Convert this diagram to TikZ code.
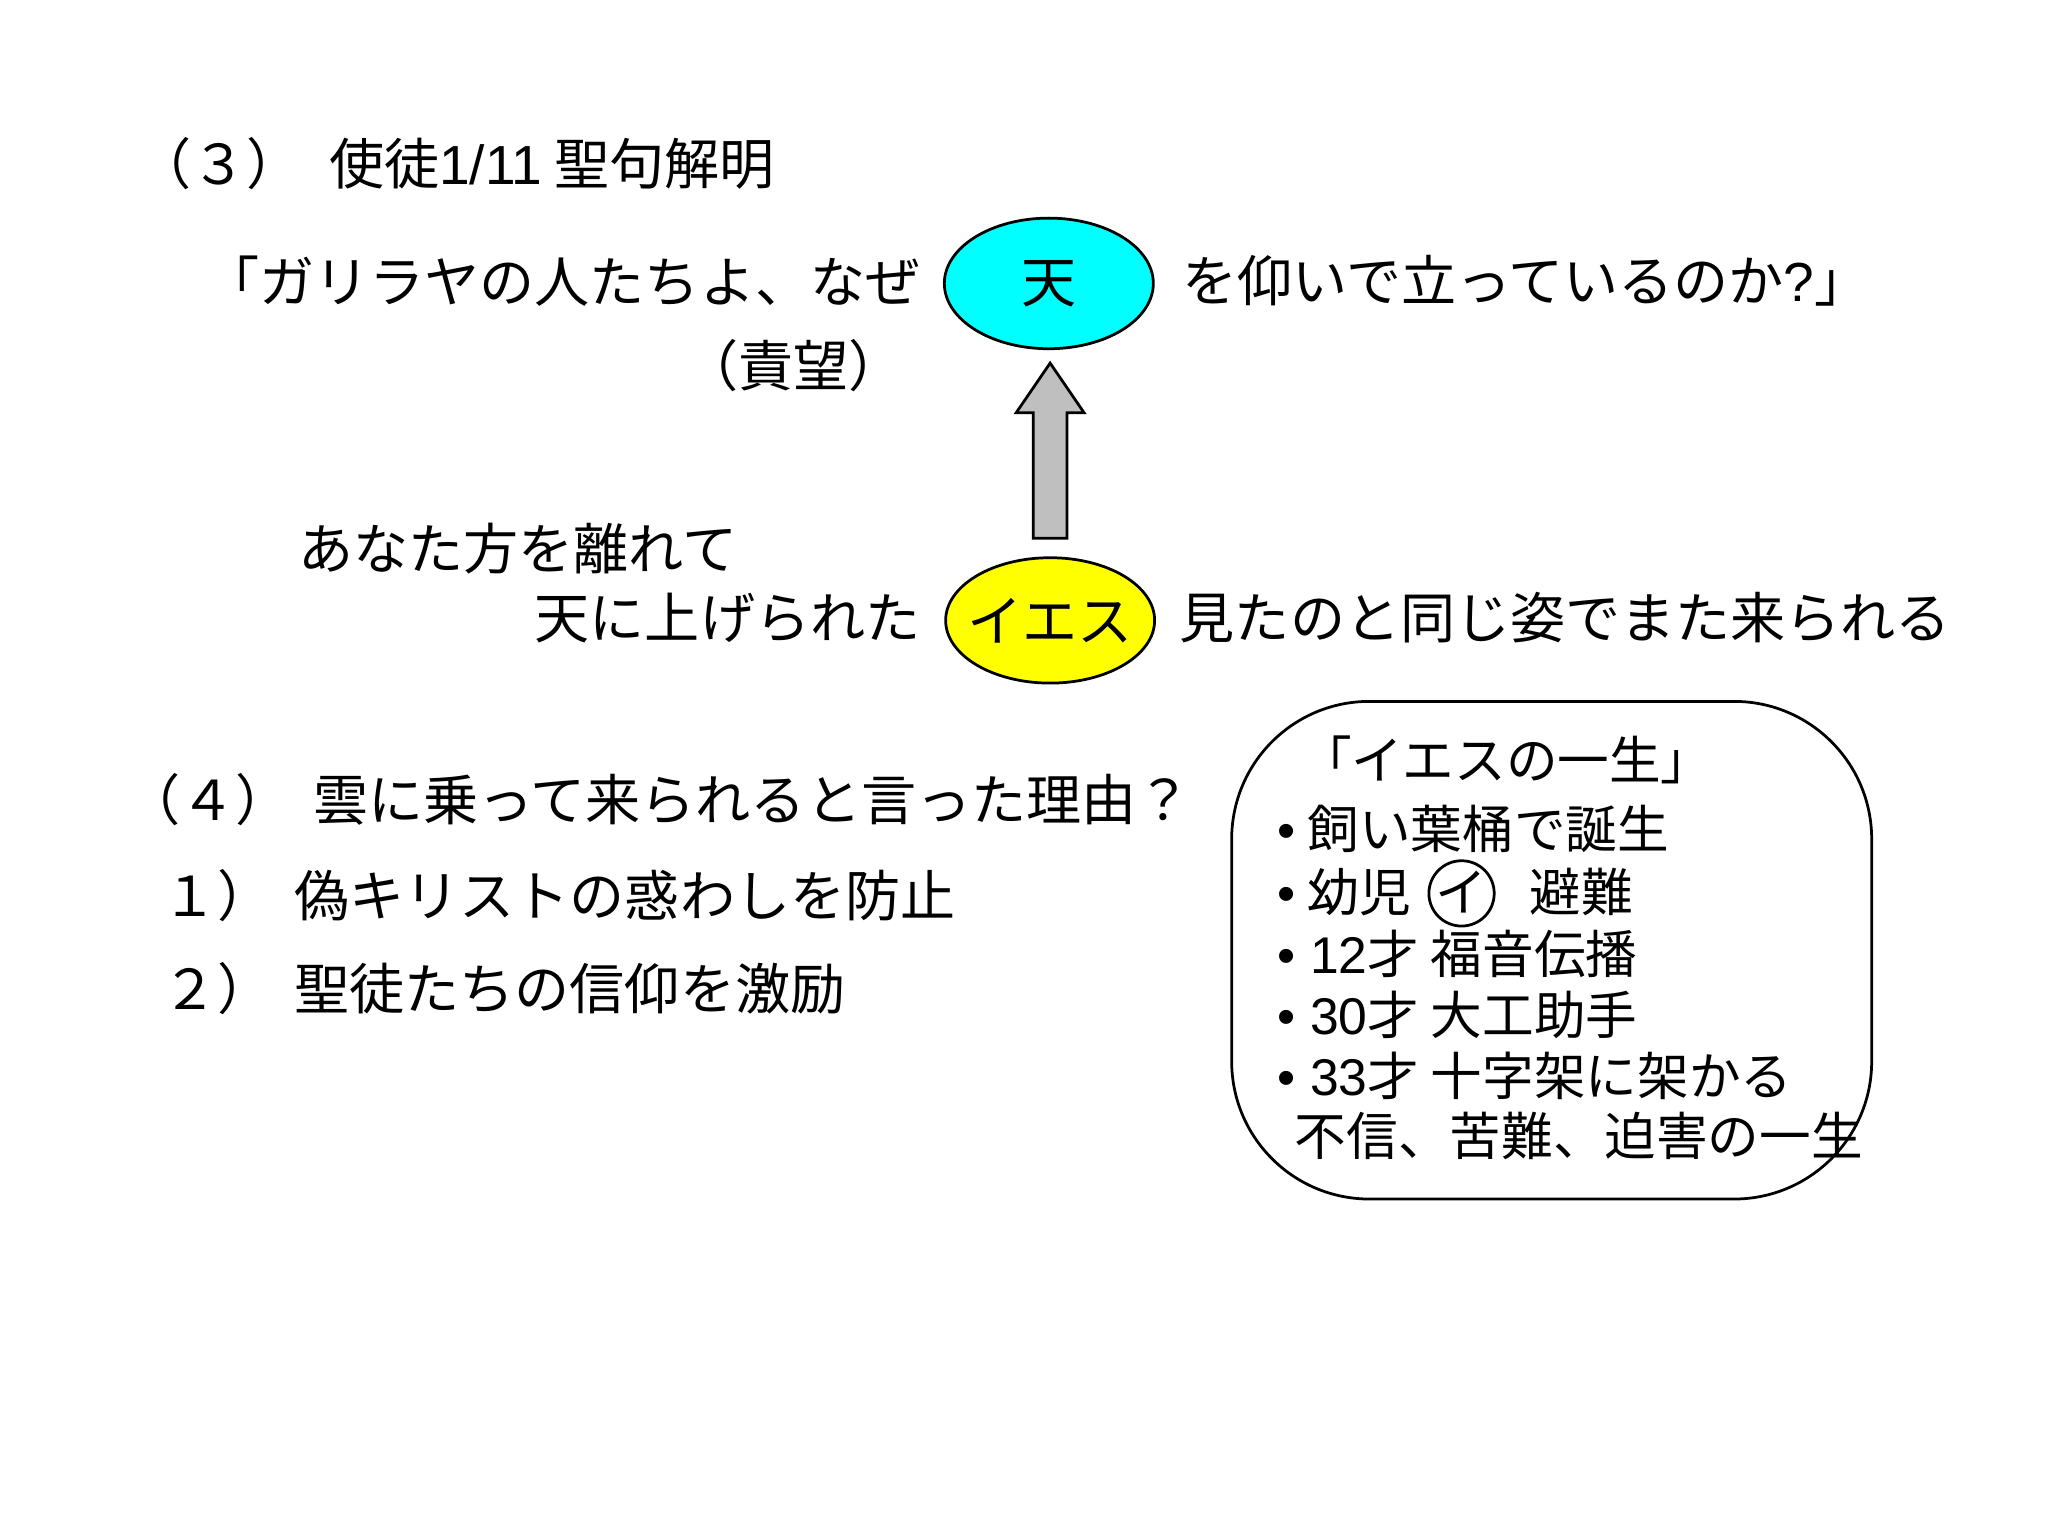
\documentclass[tikz,border=0pt]{standalone}
\usepackage{fontspec}
\setmainfont{Noto Sans CJK JP}
\newfontfamily\lat{Liberation Sans}
\definecolor{skyc}{RGB}{0,255,255}
\definecolor{yel}{RGB}{255,255,0}
\begin{document}
\begin{tikzpicture}[x=0.02cm,y=-0.02cm,
  txt/.style={inner sep=0pt,font=\fontsize{24pt}{28pt}\selectfont},
  btxt/.style={inner sep=0pt,anchor=west,font=\fontsize{22.5pt}{26pt}\selectfont}]
\useasboundingbox[fill=white] (0,0) rectangle (1568,1176);
\node[txt,anchor=west] (t3) at (104,125) {（３）\hspace{0.5em}使徒{\lat 1/11} 聖句解明};
\node[txt,anchor=east] (q1) at (705,215) {「ガリラヤの人たちよ、なぜ};
\draw[line width=1.2pt,fill=skyc] (803,217) ellipse [x radius=80,y radius=50];
\node[txt] (ten) at (803,217) {天};
\node[txt,anchor=west] (q2) at (905,215) {を仰いで立っているのか{\lat ?}」};
\node[txt,anchor=east] (sek) at (692,280) {（責望）};
\draw[line width=1.2pt,fill=white!75!black] (791,412) -- (791,316) -- (778,316) -- (804,278) -- (830,316) -- (817,316) -- (817,412) -- cycle;
\node[txt,anchor=west] (a1) at (228,420) {あなた方を離れて};
\node[txt,anchor=east] (a2) at (705,473) {天に上げられた};
\draw[line width=1.2pt,fill=yel] (804,475) ellipse [x radius=80,y radius=48];
\node[txt] (ies) at (804,475) {イエス};
\node[txt,anchor=west] (a3) at (903,473) {見たのと同じ姿でまた来られる};
\node[txt,anchor=west] (t4) at (96,612) {（４）\hspace{0.4em}雲に乗って来られると言った理由？};
\node[txt,anchor=west] (r1) at (124,686) {１）\hspace{0.4em}偽キリストの惑わしを防止};
\node[txt,anchor=west] (r2) at (124,757) {２）\hspace{0.4em}聖徒たちの信仰を激励};
\draw[line width=1.2pt,rounded corners=60] (943,537) rectangle (1433,918);
\node[btxt] (b0) at (995,582) {「イエスの一生」};
\node[btxt] (b1) at (978,635) {{\lat •} 飼い葉桶で誕生};
\node[btxt] (b2) at (978,683) {{\lat •} 幼児\hspace{2.3em}避難};
\draw[line width=1.2pt] (1119,684) circle (25);
\node[txt,font=\fontsize{22.5pt}{26pt}\selectfont] (ci) at (1119,683) {イ};
\node[btxt] (b3) at (978,730) {{\lat • 12}才 福音伝播};
\node[btxt] (b4) at (978,777) {{\lat • 30}才 大工助手};
\node[btxt] (b5) at (978,824) {{\lat • 33}才 十字架に架かる};
\node[btxt] (b6) at (991,870) {不信、苦難、迫害の一生};
\end{tikzpicture}
\end{document}
